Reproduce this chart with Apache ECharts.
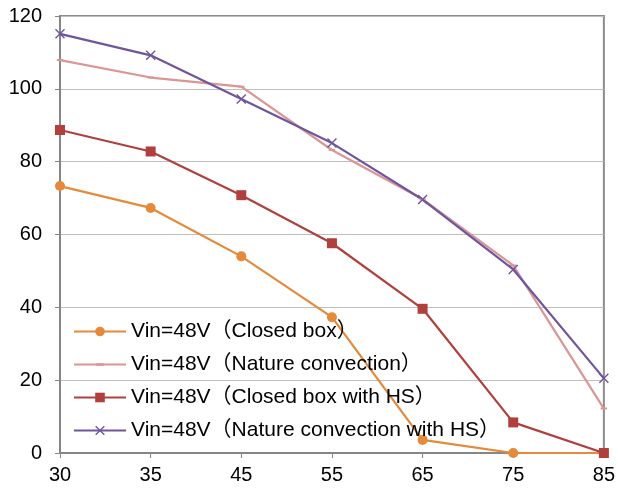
<!DOCTYPE html>
<html>
<head>
<meta charset="utf-8">
<script src="https://cdn.jsdelivr.net/npm/echarts@6/dist/echarts.min.js"></script>
<style>
  html, body { margin: 0; padding: 0; background: #fff; }
  #chart { width: 618px; height: 490px; }
</style>
</head>
<body>
<div id="chart"></div>
<script>
// 温度点 (x 轴类目)
var temps = ['30', '35', '45', '55', '65', '75', '85']
var yTicks = [0, 20, 40, 60, 80, 100, 120]

var closedBox = [73.3, 67.3, 54.0, 37.3, 3.6, 0, 0]
var natureConv = [107.9, 103.1, 100.6, 83.2, 69.7, 51.5, 12.2]
var closedBoxHS = [88.7, 82.8, 70.8, 57.6, 39.6, 8.4, 0]
var natureConvHS = [115.1, 109.2, 97.2, 85.1, 69.6, 50.4, 20.5]

var names = [
  'Vin=48V（Closed box）',
  'Vin=48V（Nature convection）',
  'Vin=48V（Closed box with HS）',
  'Vin=48V（Nature convection with HS）'
]

var font = "'Liberation Sans', Arial, 'Noto Sans CJK SC', sans-serif"
var crossPath = 'path://M0,1L1,0L5,4L9,0L10,1L6,5L10,9L9,10L5,6L1,10L0,9L4,5Z'
// 短横标记: 方形包围盒里画一条细横条
var dashPath = 'path://M0,0L0.01,0L0,0.01Z M1,3.8L9,3.8L9,6.2L1,6.2Z M10,10L9.99,10L10,9.99Z'

function mkLine (name, data, color, symbol, size) {
  return {
    name: name,
    type: 'line',
    data: data,
    symbol: symbol,
    symbolSize: size,
    showSymbol: true,
    lineStyle: { color: color, width: 2.2 },
    itemStyle: { color: color },
    emphasis: { disabled: true },
    animation: false
  }
}

var chart = echarts.init(document.getElementById('chart'))
chart.setOption({
  animation: false,
  textStyle: { fontFamily: font },
  grid: {
    left: 60,
    right: 14,
    top: 16,
    bottom: 37,
    show: true,
    borderColor: '#8c8c8c',
    borderWidth: 2
  },
  legend: {
    orient: 'vertical',
    left: 68,
    top: 316,
    itemWidth: 52,
    itemHeight: 12,
    itemGap: 12,
    textStyle: { fontSize: 21, color: '#000', fontFamily: font, lineHeight: 21 },
    data: names
  },
  xAxis: {
    type: 'category',
    data: temps,
    boundaryGap: false,
    axisLine: { lineStyle: { color: '#868686', width: 2 } },
    axisTick: { show: true, alignWithLabel: true, length: 5, lineStyle: { color: '#868686' } },
    axisLabel: { fontSize: 20, color: '#000', margin: 12 },
    splitLine: { show: false }
  },
  yAxis: {
    type: 'value',
    min: yTicks[0],
    max: yTicks[yTicks.length - 1],
    interval: 20,
    axisLine: { show: true, lineStyle: { color: '#868686', width: 2 } },
    axisTick: { show: true, length: 5, inside: false, lineStyle: { color: '#868686' } },
    axisLabel: { fontSize: 20, color: '#000', margin: 18 },
    splitLine: { lineStyle: { color: '#bfbfbf', width: 1 } }
  },
  series: [
    mkLine(names[0], closedBox, '#e5893a', 'circle', 10),
    mkLine(names[1], natureConv, '#d99694', dashPath, 8),
    mkLine(names[2], closedBoxHS, '#b0403e', 'rect', 10),
    mkLine(names[3], natureConvHS, '#6f559e', crossPath, 10)
  ]
})
</script>
</body>
</html>
